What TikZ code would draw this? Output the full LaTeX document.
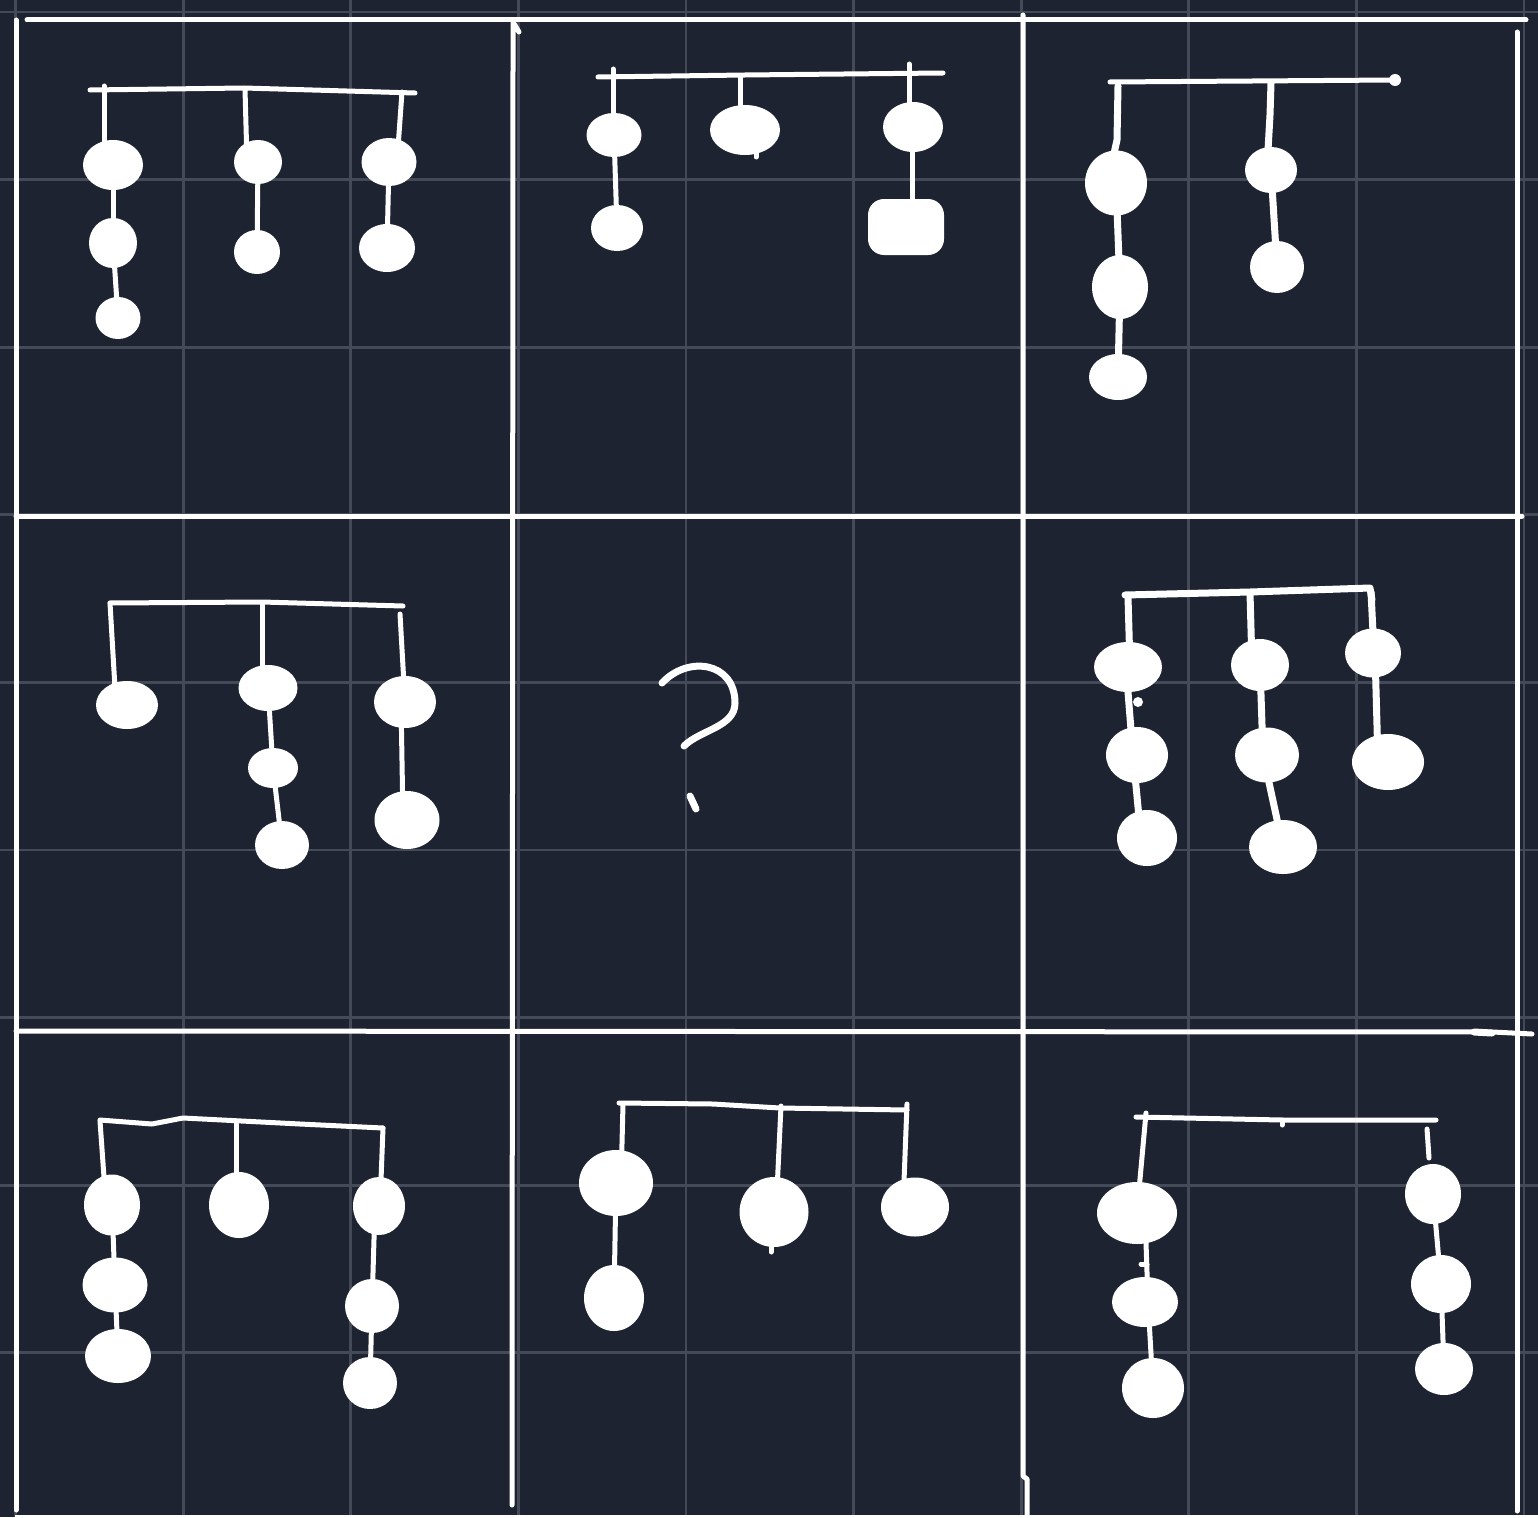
\documentclass[tikz,border=0pt]{standalone}
\usetikzlibrary{shapes.geometric}
\definecolor{bgc}{RGB}{30,35,50}
\definecolor{gridc}{RGB}{68,74,88}
\pgfdeclarelayer{back}
\pgfdeclarelayer{wires}
\pgfsetlayers{back,wires,main}
\tikzset{
  ball/.style={ellipse, fill=white, draw=none, inner sep=0pt},
  sqball/.style={rectangle, rounded corners=16pt, fill=white, draw=none, inner sep=0pt},
  wire/.style={draw=white, line width=5pt, line cap=round, line join=round},
  thickwire/.style={draw=white, line width=7pt, line cap=round, line join=round},
  border/.style={draw=white, line width=5pt, line cap=round, line join=round},
  gridline/.style={draw=gridc, line width=2.8pt},
}
\newcommand\myball[5]{\node[ball, minimum width=#4pt, minimum height=#5pt] (#1) at (#2,#3) {};}
\begin{document}
\begin{tikzpicture}[x=1pt,y=-1pt]
\useasboundingbox (0,0) rectangle (1538,1517);
\begin{pgfonlayer}{back}
\fill[bgc] (0,0) rectangle (1538,1517);
\foreach \k in {0,...,9} {
  \draw[gridline] ({15.5+167.6*\k},0) -- ({15.5+167.6*\k},1517);
  \draw[gridline] (0,{12+167.6*\k}) -- (1538,{12+167.6*\k});
}
\end{pgfonlayer}
% borders and dividers
\draw[border] (27,20) -- (1526,20);
\draw[border] (16,20) -- (16,1510);
\draw[border] (519,32) -- (513,22) -- (513,60) -- (512,1505);
\draw[border] (1023,15) -- (1023,1476) -- (1027,1479) -- (1027,1517);
\draw[border] (1517,32) -- (1517,1511);
\draw[border] (16,516) -- (1522,516);
\draw[border] (16,1031) -- (1493,1032) -- (1532,1034);
\draw[draw=white, line width=7pt, line cap=round] (1474,1032) -- (1492,1033);
\draw[draw=white, line width=2pt] (15,1515.5) -- (1538,1515.5);

% ---------- cell 1,1 ----------
\draw[wire] (90,90) -- (244,88) -- (415,93);
\coordinate (t11a) at (104,86);
\coordinate (t11b) at (245,89);
\coordinate (t11c) at (402,92);
\myball{b11a1}{113}{165}{60}{50}
\myball{b11a2}{113}{243}{48}{50}
\myball{b11a3}{118}{318}{45}{42}
\myball{b11b1}{258}{162}{48}{44}
\myball{b11b2}{257}{252}{46}{44}
\myball{b11c1}{389}{162}{55}{48}
\myball{b11c2}{387}{248}{56}{48}
\begin{pgfonlayer}{wires}
\draw[wire] (t11a) -- (t11a |- b11a1.center);
\draw[wire] (b11a1) -- (b11a2);
\draw[wire] (b11a2) -- (b11a3);
\draw[wire] (t11b) -- ([xshift=2pt]t11b |- b11b1.center);
\draw[wire] (b11b1) -- (b11b2);
\draw[wire] (t11c) -- ([xshift=-5pt]t11c |- b11c1.center);
\draw[wire] (b11c1) -- (b11c2);
\end{pgfonlayer}

% ---------- cell 1,2 ----------
\draw[wire] (598,77) -- (745,75) -- (943,73);
\coordinate (t12a) at (613,69);
\coordinate (t12b) at (740,76);
\coordinate (t12c) at (909,64);
\myball{b12a1}{614}{135}{55}{44}
\myball{b12a2}{617}{228}{52}{46}
\myball{b12b1}{745}{130}{70}{50}
\myball{b12c1}{913}{127}{60}{50}
\node[sqball, minimum width=76pt, minimum height=56pt] (b12c2) at (906,227) {};
\begin{pgfonlayer}{wires}
\draw[wire] (t12a) -- (t12a |- b12a1.center);
\draw[wire] (b12a1) -- (b12a2);
\draw[wire] (t12b) -- (t12b |- b12b1.center);
\draw[wire] (t12c) -- (t12c |- b12c1.center);
\draw[wire] ([xshift=-1pt]b12c1.center) -- ([xshift=6pt]b12c2.center);
\draw[wire] (756,148) -- (756,157);
\end{pgfonlayer}

% ---------- cell 1,3 ----------
\draw[wire] (1110,82) -- (1395,80);
\fill[white] (1395,80) circle (6pt);
\coordinate (t13a) at (1118,86);
\coordinate (t13b) at (1271,83);
\myball{b13a1}{1116}{183}{62}{65}
\myball{b13a2}{1120}{287}{56}{64}
\myball{b13a3}{1118}{377}{58}{46}
\myball{b13b1}{1271}{170}{52}{46}
\myball{b13b2}{1277}{267}{54}{52}
\begin{pgfonlayer}{wires}
\draw[thickwire] (t13a) -- (1117,140) -- (1113,158);
\draw[thickwire] (b13a1) -- (b13a2);
\draw[thickwire] (b13a2) -- (b13a3);
\draw[thickwire] (t13b) -- (1270,115) -- (1268,150);
\draw[thickwire] (b13b1) -- (b13b2);
\end{pgfonlayer}

% ---------- cell 2,1 ----------
\draw[wire] (110,603) -- (262,602) -- (403,606);
\coordinate (t21a) at (110,603);
\coordinate (t21b) at (262,605);
\coordinate (t21c) at (400,614);
\myball{b21a1}{127}{705}{62}{48}
\myball{b21b1}{268}{688}{59}{46}
\myball{b21b2}{273}{768}{50}{40}
\myball{b21b3}{282}{845}{54}{48}
\myball{b21c1}{405}{702}{62}{52}
\myball{b21c2}{407}{820}{65}{58}
\begin{pgfonlayer}{wires}
\draw[wire] (t21a) -- ([xshift=6pt]t21a |- b21a1.center);
\draw[wire] (t21b) -- (t21b |- b21b1.center);
\draw[wire] (b21b1) -- (b21b2);
\draw[wire] (b21b2) -- (b21b3);
\draw[wire] (t21c) -- ([xshift=5pt]t21c |- b21c1.center);
\draw[wire] ([xshift=-4pt]b21c1.center) -- ([xshift=-4pt]b21c2.center);
\end{pgfonlayer}

% ---------- cell 2,2 : question mark ----------
\draw[draw=white, line width=7pt, line cap=round]
  (662,683) .. controls (688,655) and (735,662) .. (735,703)
  .. controls (735,727) and (700,730) .. (684,746);
\draw[draw=white, line width=7pt, line cap=round] (690,796) -- (696,809);

% ---------- cell 2,3 ----------
\draw[thickwire] (1125,595) -- (1250,592) -- (1370,588) -- (1372,600);
\coordinate (t23a) at (1128,597);
\coordinate (t23b) at (1250,593);
\coordinate (t23c) at (1371,592);
\myball{b23a1}{1128}{667}{68}{50}
\myball{b23a2}{1137}{755}{62}{56}
\myball{b23a3}{1147}{838}{60}{56}
\myball{b23b1}{1260}{665}{58}{52}
\myball{b23b2}{1267}{755}{64}{55}
\myball{b23b3}{1283}{847}{68}{54}
\myball{b23c1}{1373}{653}{56}{49}
\myball{b23c2}{1388}{762}{72}{56}
\fill[white] (1138,702) circle (5pt);
\begin{pgfonlayer}{wires}
\draw[thickwire] (t23a) -- ([xshift=2pt]t23a |- b23a1.center);
\draw[thickwire] ([xshift=-2pt]b23a1.center) -- ([xshift=-4pt]b23a2.center);
\draw[thickwire] ([xshift=-4pt]b23a2.center) -- ([xshift=-6pt]b23a3.center);
\draw[thickwire] (t23b) -- ([xshift=2pt]t23b |- b23b1.center);
\draw[thickwire] (b23b1) -- ([xshift=-4pt]b23b2.center);
\draw[thickwire] ([xshift=-4pt]b23b2.center) -- (b23b3);
\draw[thickwire] (t23c) -- ([xshift=3pt]t23c |- b23c1.center);
\draw[thickwire] ([xshift=2pt]b23c1.center) -- ([xshift=-10pt]b23c2.center);
\end{pgfonlayer}

% ---------- cell 3,1 ----------
\draw[wire] (100,1120) -- (152,1124) -- (183,1118) -- (300,1124) -- (383,1128);
\coordinate (t31a) at (100,1121);
\coordinate (t31b) at (236,1124);
\coordinate (t31c) at (383,1128);
\myball{b31a1}{112}{1205}{56}{61}
\myball{b31a2}{115}{1285}{65}{55}
\myball{b31a3}{118}{1356}{66}{54}
\myball{b31b1}{239}{1205}{60}{66}
\myball{b31c1}{379}{1206}{52}{58}
\myball{b31c2}{372}{1306}{54}{54}
\myball{b31c3}{370}{1383}{54}{52}
\begin{pgfonlayer}{wires}
\draw[wire] (t31a) -- ([xshift=6pt]t31a |- b31a1.center);
\draw[wire] (b31a1) -- (b31a2);
\draw[wire] (b31a2) -- (b31a3);
\draw[wire] (t31b) -- (t31b |- b31b1.center);
\draw[wire] (t31c) -- ([xshift=-3pt]t31c |- b31c1.center);
\draw[wire] ([xshift=-4pt]b31c1.center) -- (b31c2);
\draw[wire] (b31c2) -- (b31c3);
\end{pgfonlayer}

% ---------- cell 3,2 ----------
\draw[wire] (619,1103) -- (713,1104) -- (780,1108) -- (907,1110);
\coordinate (t32a) at (623,1104);
\coordinate (t32b) at (781,1106);
\coordinate (t32c) at (907,1104);
\myball{b32a1}{616}{1183}{74}{66}
\myball{b32a2}{614}{1298}{60}{66}
\myball{b32b1}{774}{1212}{69}{70}
\myball{b32c1}{915}{1207}{68}{59}
\begin{pgfonlayer}{wires}
\draw[wire] (t32a) -- ([xshift=-2pt]t32a |- b32a1.center);
\draw[wire] (b32a1) -- (b32a2);
\draw[wire] (t32b) -- ([xshift=-5pt]t32b |- b32b1.center);
\draw[wire] (t32c) -- ([xshift=-4pt]t32c |- b32c1.center);
\draw[wire] (771,1240) -- (771,1252);
\end{pgfonlayer}

% ---------- cell 3,3 ----------
\draw[wire] (1136,1117) -- (1282,1120) -- (1436,1120);
\coordinate (t33a) at (1146,1113);
\coordinate (t33c) at (1427,1129);
\myball{b33a1}{1137}{1213}{80}{62}
\myball{b33a2}{1145}{1302}{66}{50}
\myball{b33a3}{1153}{1388}{62}{60}
\myball{b33c1}{1433}{1194}{56}{60}
\myball{b33c2}{1441}{1284}{60}{58}
\myball{b33c3}{1444}{1369}{58}{52}
\draw[wire] (1282,1120) -- (1282,1125);
\begin{pgfonlayer}{wires}
\draw[wire] (t33a) -- (1139,1190);
\draw[wire] ([xshift=8pt]b33a1.center) -- ([xshift=3pt]b33a2.center);
\draw[wire] (1141,1264) -- (1147,1264);
\draw[wire] ([xshift=3pt]b33a2.center) -- (b33a3);
\draw[wire] (t33c) -- (1429,1158);
\draw[wire] (b33c1) -- (b33c2);
\draw[wire] (b33c2) -- (b33c3);
\end{pgfonlayer}
\end{tikzpicture}
\end{document}
